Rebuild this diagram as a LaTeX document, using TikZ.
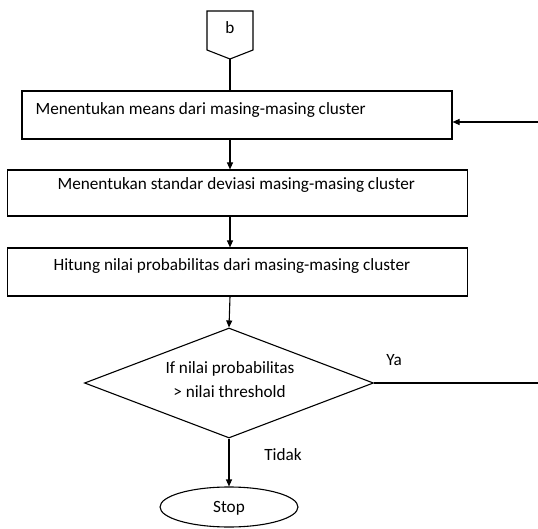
\documentclass[tikz,border=0pt]{standalone}
\usepackage{fontspec}
\setmainfont{Carlito}
\usetikzlibrary{shapes.geometric,arrows.meta}
\begin{document}
\begin{tikzpicture}[x=1pt,y=-1pt,
  line width=1.1pt,
  every node/.style={font=\fontsize{17.2}{19}\selectfont},
  procbox/.style={draw,rectangle,inner sep=0pt},
  lbl/.style={inner sep=0pt},
  arr/.style={-{Triangle[length=7pt,width=6pt]}}]
\useasboundingbox (0,0) rectangle (538,529);
% off-page connector
\coordinate (pA) at (207,11);
\coordinate (pB) at (253,11);
\coordinate (pC) at (253,50);
\coordinate (pD) at (230,59);
\coordinate (pE) at (207,50);
\draw (pA) -- (pB) -- (pC) -- (pD) -- (pE) -- cycle;
\node[lbl,anchor=base] (b) at (230,34) {b};
% boxes
\node[procbox,minimum width=430,minimum height=48] (box1) at (237,115) {};
\node[procbox,minimum width=460,minimum height=46] (box2) at (237.5,193) {};
\node[procbox,minimum width=460,minimum height=48] (box3) at (237.5,272) {};
\node[lbl,anchor=base west] (t1) at (35,115) {Menentukan means dari masing-masing cluster};
\node[lbl,anchor=base west] (t2) at (57,190) {Menentukan standar deviasi masing-masing cluster};
\node[lbl,anchor=base west] (t3) at (53,270.5) {Hitung nilai probabilitas dari masing-masing cluster};
% diamond
\node[draw,diamond,minimum width=289,minimum height=110,inner sep=0pt] (dec) at (229,383) {};
\node[lbl,anchor=base] (dt1) at (230,373.5) {If nilai probabilitas};
\node[lbl,anchor=base] (dt2) at (229.5,397.5) {> nilai threshold};
% stop
\node[draw,ellipse,minimum width=138,minimum height=40,inner sep=0pt] (stop) at (229,507) {};
\node[lbl,anchor=base] (st) at (229,512) {Stop};
% labels
\node[lbl,anchor=base] (ya) at (394,365) {Ya};
\node[lbl,anchor=base] (tidak) at (283,460) {Tidak};
% right-side ends
\coordinate (r1) at (538,122);
\coordinate (r2) at (538,383);
\coordinate (cx) at (230,0);
% connectors
\draw (pD) -- (pD |- box1.north);
\draw[arr] (box1.south -| cx) -- (box2.north -| cx);
\draw[arr] (box2.south -| cx) -- (box3.north -| cx);
\draw[arr] (box3.south -| cx) -- (dec.north);
\draw[arr] (dec.south) -- (stop.north);
\draw[arr] (r1) -- (r1 -| box1.east);
\draw (dec.east) -- (r2);
\end{tikzpicture}
\end{document}
